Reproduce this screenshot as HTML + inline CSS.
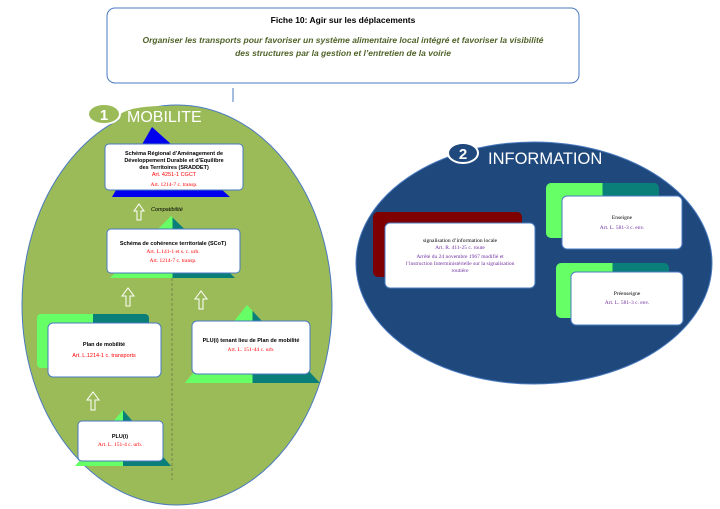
<!DOCTYPE html>
<html><head><meta charset="utf-8"><style>
body{margin:0;background:#fff;}
svg{display:block;font-family:"Liberation Sans",sans-serif;}
.s{font-family:"Liberation Serif",serif;}
</style></head><body>
<svg width="720" height="509" viewBox="0 0 720 509" xmlns="http://www.w3.org/2000/svg">
<defs>
<linearGradient id="gt" x1="0" x2="1"><stop offset="0.5" stop-color="#66ff66"/><stop offset="0.5" stop-color="#0a7f7a"/></linearGradient>
</defs>
<rect x="107" y="8" width="472" height="75" rx="8" fill="#fff" stroke="#4a7ac0" stroke-width="1"/>
<text x="343" y="23" font-size="8.5" font-weight="bold" text-anchor="middle">Fiche 10: Agir sur les déplacements</text>
<text x="343" y="43" font-size="8.5" font-weight="bold" font-style="italic" fill="#4f6228" text-anchor="middle">Organiser les transports pour favoriser un système alimentaire local intégré et favoriser la visibilité</text>
<text x="343" y="56" font-size="8.5" font-weight="bold" font-style="italic" fill="#4f6228" text-anchor="middle">des structures par la gestion et l’entretien de la voirie</text>
<line x1="233" y1="88" x2="233" y2="102" stroke="#4a7ac0" stroke-width="1"/>

<ellipse cx="177" cy="305" rx="155" ry="200" fill="#9bbb59" stroke="#4a7ac0" stroke-width="1"/>
<ellipse cx="162" cy="118" rx="44" ry="12" fill="#9bbb59"/>
<ellipse cx="104" cy="114" rx="16" ry="10" fill="#9bbb59" stroke="#fff" stroke-width="2"/>
<text x="104" y="120" font-size="15" font-weight="bold" fill="#fff" text-anchor="middle">1</text>
<text x="127" y="122" font-size="16" fill="#fff">MOBILITE</text>

<polygon points="152,127 112,197 230,197" fill="#0000ee"/>
<rect x="105" y="144" width="138" height="46" rx="4" fill="#fff" stroke="#4a7ac0"/>
<text x="174" y="155" font-size="5.5" font-weight="bold" text-anchor="middle">Schéma Régional d’Aménagement de</text>
<text x="174" y="162" font-size="5.5" font-weight="bold" text-anchor="middle">Développement Durable et d’Equilibre</text>
<text x="174" y="169" font-size="5.5" font-weight="bold" text-anchor="middle">des Territoires (SRADDET)</text>
<text x="174" y="176" font-size="5.5" fill="#ff0000" text-anchor="middle">Art. 4251-1 CGCT</text>
<text x="174" y="186" font-size="5.5" fill="#ff0000" text-anchor="middle" class="s">Art. 1214-7 c. transp.</text>

<polygon points="137,220 137,211 134,211 139,204 144,211 141,211 141,220" fill="none" stroke="#fff" stroke-width="1"/>
<text x="151" y="211" font-size="5.5" font-style="italic">Compatibilité</text>

<polygon points="171,216 110,278 235,278" fill="url(#gt)"/>
<rect x="107" y="229" width="133" height="44" rx="4" fill="#fff" stroke="#4a7ac0"/>
<text x="173" y="245" font-size="5.5" font-weight="bold" text-anchor="middle">Schéma de cohérence territoriale (SCoT)</text>
<text x="173" y="253" font-size="5.5" fill="#ff0000" text-anchor="middle" class="s">Art. L.141-1 et s. c. urb.</text>
<text x="173" y="262" font-size="5.5" fill="#ff0000" text-anchor="middle" class="s">Art. 1214-7 c. transp.</text>

<line x1="172" y1="278" x2="172" y2="480" stroke="#7a8f50" stroke-width="1.2" stroke-dasharray="3,2"/>

<polygon points="126,306 126,296 122,296 128,288 134,296 130,296 130,306" fill="none" stroke="#fff" stroke-width="1"/>
<polygon points="199,309 199,299 195,299 201,291 207,299 203,299 203,309" fill="none" stroke="#fff" stroke-width="1"/>
<polygon points="91,410 91,400 87,400 93,392 99,400 95,400 95,410" fill="none" stroke="#fff" stroke-width="1"/>

<rect x="37" y="314" width="112" height="54" rx="4" fill="url(#gt)"/>
<rect x="48" y="323" width="113" height="54" rx="5" fill="#fff" stroke="#4a7ac0"/>
<text x="104" y="346" font-size="5.5" font-weight="bold" text-anchor="middle">Plan de mobilité</text>
<text x="104" y="357" font-size="5.5" fill="#ff0000" text-anchor="middle">Art. L.1214-1 c. transports</text>

<polygon points="247,305 185,383 320,383" fill="url(#gt)"/>
<rect x="192" y="321" width="118" height="53" rx="5" fill="#fff" stroke="#4a7ac0"/>
<text x="251" y="342" font-size="5.5" font-weight="bold" text-anchor="middle">PLU(i) tenant lieu de Plan de mobilité</text>
<text x="251" y="351" font-size="5.5" fill="#ff0000" text-anchor="middle" class="s">Art. L. 151-44 c. urb.</text>

<polygon points="123,410 75,466 171,466" fill="url(#gt)"/>
<rect x="78" y="421" width="85" height="40" rx="4" fill="#fff" stroke="#4a7ac0"/>
<text x="120" y="438" font-size="5.5" font-weight="bold" text-anchor="middle">PLU(i)</text>
<text x="120" y="446" font-size="5.5" fill="#ff0000" text-anchor="middle" class="s">Art. L. 151-4 c. urb.</text>

<ellipse cx="534" cy="263" rx="178" ry="121" fill="#1f497d" stroke="#4a7ac0"/>
<ellipse cx="463" cy="153" rx="15" ry="10" fill="#1f497d" stroke="#fff" stroke-width="2"/>
<text x="463" y="159" font-size="15" font-weight="bold" fill="#fff" text-anchor="middle">2</text>
<text x="488" y="164" font-size="16.5" fill="#fff">INFORMATION</text>

<rect x="373" y="212" width="149" height="65" rx="5" fill="#7f0000"/>
<rect x="385" y="223" width="150" height="65" rx="5" fill="#fff" stroke="#4a7ac0"/>
<text x="460" y="242" font-size="5.5" text-anchor="middle" class="s">signalisation d’information locale</text>
<text x="460" y="249" font-size="5.5" fill="#7030a0" text-anchor="middle" class="s">Art. R. 411-25 c. route</text>
<text x="460" y="258" font-size="5.5" fill="#7030a0" text-anchor="middle" class="s">Arrêté du 24 novembre 1967 modifié et</text>
<text x="460" y="265" font-size="5.5" fill="#7030a0" text-anchor="middle" class="s">l’instruction Interministérielle sur la signalisation</text>
<text x="460" y="272" font-size="5.5" fill="#7030a0" text-anchor="middle" class="s">routière</text>

<rect x="546" y="183" width="113" height="55" rx="5" fill="url(#gt)"/>
<rect x="562" y="196" width="120" height="53" rx="5" fill="#fff" stroke="#4a7ac0"/>
<text x="622" y="219" font-size="5.5" text-anchor="middle" class="s">Enseigne</text>
<text x="622" y="229" font-size="5.5" fill="#7030a0" text-anchor="middle" class="s">Art. L. 581-3 c. env.</text>

<rect x="556" y="263" width="113" height="55" rx="5" fill="url(#gt)"/>
<rect x="571" y="272" width="112" height="53" rx="5" fill="#fff" stroke="#4a7ac0"/>
<text x="627" y="295" font-size="5.5" text-anchor="middle" class="s">Préenseigne</text>
<text x="627" y="304" font-size="5.5" fill="#7030a0" text-anchor="middle" class="s">Art. L. 581-3 c. env.</text>
</svg>
</body></html>
